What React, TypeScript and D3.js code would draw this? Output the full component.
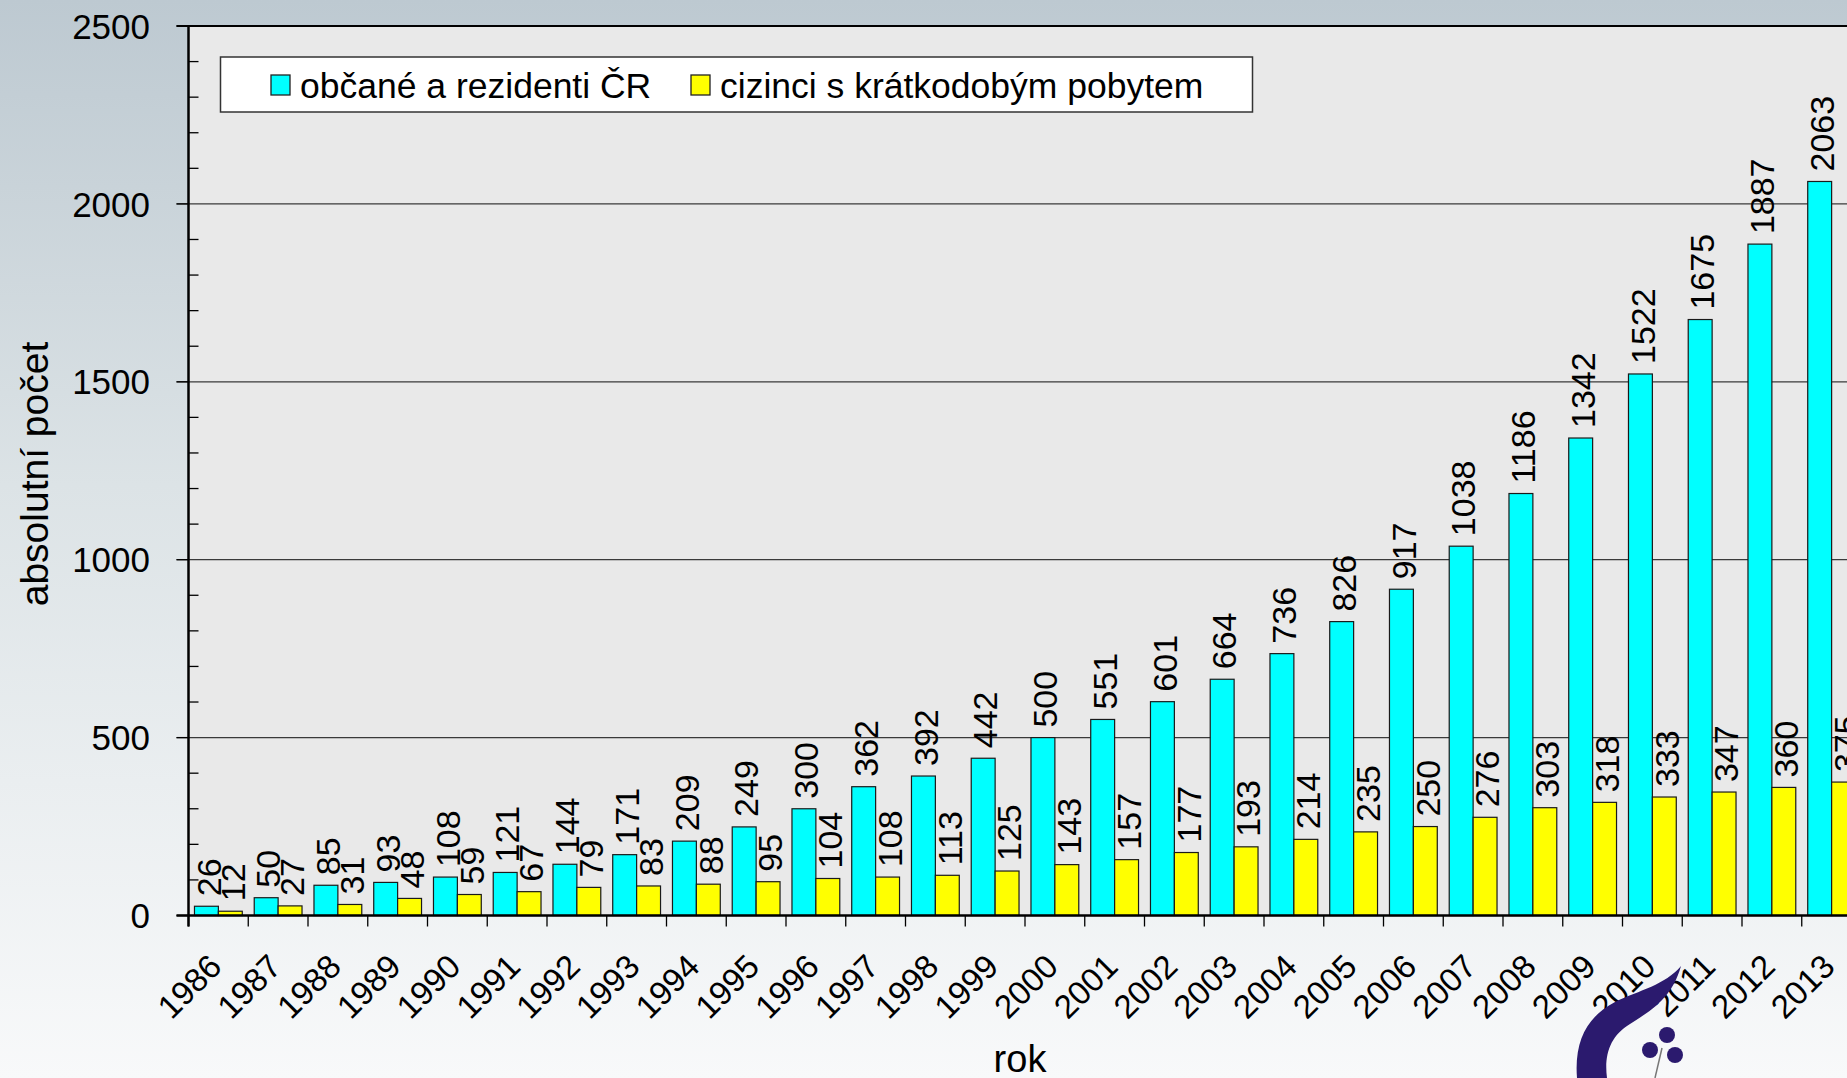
import React from 'react';
import * as d3 from 'd3';

const years = [
  '1986', '1987', '1988', '1989', '1990', '1991', '1992', '1993', '1994', '1995',
  '1996', '1997', '1998', '1999', '2000', '2001', '2002', '2003', '2004', '2005',
  '2006', '2007', '2008', '2009', '2010', '2011', '2012', '2013',
];

// občané a rezidenti ČR
const residents = [
  26, 50, 85, 93, 108, 121, 144, 171, 209, 249, 300, 362, 392, 442, 500, 551, 601, 664,
  736, 826, 917, 1038, 1186, 1342, 1522, 1675, 1887, 2063,
];

// cizinci s krátkodobým pobytem
const foreigners = [
  12, 27, 31, 48, 59, 67, 79, 83, 88, 95, 104, 108, 113, 125, 143, 157, 177, 193, 214,
  235, 250, 276, 303, 318, 333, 347, 360, 375,
];

const seriesNames = ['občané a rezidenti ČR', 'cizinci s krátkodobým pobytem'];
const seriesColors = ['#00ffff', '#ffff00'];
const majorTicks = [0, 500, 1000, 1500, 2000, 2500];
const minorTicks = d3.range(0, 2501, 100);

const W = 1847;
const H = 1078;
const FONT = "'Liberation Sans', Arial, sans-serif";

const App: React.FC = () => {
  const left = 188.5;
  const top = 26;
  const bottom = 915.5;
  const step = 59.75;

  const x = d3
    .scaleBand<string>()
    .domain(years)
    .range([left, left + step * years.length])
    .padding(0);

  // two bars per year, 10% gap at each side of the band
  const inner = d3
    .scaleBand<number>()
    .domain([0, 1])
    .range([0, x.bandwidth()])
    .paddingInner(0)
    .paddingOuter(0.25);

  const y = d3.scaleLinear().domain([0, 2500]).range([bottom, top]);

  const series = [residents, foreigners];
  const right = left + step * years.length;

  return (
    <svg
      width={W}
      height={H}
      style={{ position: 'absolute', left: 0, top: 0, display: 'block' }}
      fontFamily={FONT}
    >
      <defs>
        <linearGradient id="bg" x1="0" y1="0" x2="0" y2="1">
          <stop offset="0%" stopColor="#bdc9d1" />
          <stop offset="45%" stopColor="#dce3e6" />
          <stop offset="100%" stopColor="#f8f9fa" />
        </linearGradient>
      </defs>
      <rect x={0} y={0} width={W} height={H} fill="url(#bg)" />

      {/* plot area */}
      <rect x={left} y={top} width={right - left} height={bottom - top} fill="#e9e9e9" />

      {/* gridlines */}
      {majorTicks
        .filter((t) => t > 0 && t < 2500)
        .map((t) => (
          <line key={'g' + t} x1={left - 12} x2={right} y1={y(t)} y2={y(t)} stroke="#3a3a3a" strokeWidth={1.3} />
        ))}
      <line x1={left - 12} x2={right} y1={y(2500)} y2={y(2500)} stroke="#000" strokeWidth={2} />

      {/* bars */}
      {series.map((vals, si) =>
        vals.map((v, i) => (
          <rect
            key={`b${si}-${i}`}
            x={(x(years[i]) as number) + (inner(si) as number)}
            y={y(v)}
            width={inner.bandwidth()}
            height={bottom - y(v)}
            fill={seriesColors[si]}
            stroke="#1a1a1a"
            strokeWidth={1.2}
          />
        ))
      )}

      {/* value labels */}
      {series.map((vals, si) =>
        vals.map((v, i) => {
          const cx = (x(years[i]) as number) + (inner(si) as number) + inner.bandwidth() / 2 + 2;
          const cy = y(v) - 10;
          return (
            <text
              key={`l${si}-${i}`}
              transform={`translate(${cx},${cy}) rotate(-90)`}
              dy="0.36em"
              fontSize={34}
              fill="#000"
            >
              {v}
            </text>
          );
        })
      )}

      {/* y axis */}
      <line x1={left} x2={left} y1={top} y2={bottom + 11} stroke="#000" strokeWidth={2.5} />
      {minorTicks
        .filter((t) => t % 500 !== 0)
        .map((t) => (
          <line key={'m' + t} x1={left} x2={left + 10} y1={y(t)} y2={y(t)} stroke="#000" strokeWidth={1.3} />
        ))}
      {majorTicks.map((t) => (
        <g key={'t' + t}>
          <line x1={left - 12} x2={left} y1={y(t)} y2={y(t)} stroke="#000" strokeWidth={1.3} />
          <text x={150} y={y(t)} dy="0.36em" textAnchor="end" fontSize={35} fill="#000">
            {t}
          </text>
        </g>
      ))}

      {/* x axis */}
      <line x1={left - 12} x2={right} y1={bottom} y2={bottom} stroke="#000" strokeWidth={2.5} />
      {years.map((yr) => (
        <line
          key={'xt' + yr}
          x1={x(yr) as number}
          x2={x(yr) as number}
          y1={bottom}
          y2={bottom + 11}
          stroke="#000"
          strokeWidth={1.3}
        />
      ))}
      {years.map((yr) => {
        const cx = (x(yr) as number) + x.bandwidth() / 2 + 5;
        return (
          <text
            key={'xl' + yr}
            transform={`translate(${cx},${bottom + 53}) rotate(-45)`}
            textAnchor="end"
            fontSize={33}
            fill="#000"
          >
            {yr}
          </text>
        );
      })}

      {/* axis titles */}
      <text
        transform={`translate(34,474) rotate(-90)`}
        textAnchor="middle"
        dy="0.36em"
        fontSize={39}
        fill="#000"
      >
        absolutní počet
      </text>
      <text x={1020} y={1072} textAnchor="middle" fontSize={38} fill="#000">
        rok
      </text>

      {/* legend */}
      <rect x={220.5} y={57} width={1032} height={55} fill="#fff" stroke="#333" strokeWidth={1.5} />
      {seriesNames.map((name, si) => {
        const lx = si === 0 ? 271 : 691;
        return (
          <g key={'lg' + si}>
            <rect x={lx} y={75} width={19} height={20} fill={seriesColors[si]} stroke="#222" strokeWidth={1.3} />
            <text x={lx + 29} y={85} dy="0.36em" fontSize={35.5} fill="#000">
              {name}
            </text>
          </g>
        );
      })}

      {/* logo */}
      <g fill="#2b1a6e">
        <path d="M1681,966 C1665,985 1640,990 1615,1002 C1588,1016 1574,1040 1577,1078 L1607,1078 C1604,1055 1610,1036 1630,1024 C1652,1010 1672,998 1681,966 Z" />
        <line x1={1662} y1={1048} x2={1655} y2={1078} stroke="#777" strokeWidth={1.5} />
        <circle cx={1667} cy={1035} r={8} />
        <circle cx={1650} cy={1050} r={8} />
        <circle cx={1675} cy={1055} r={8} />
      </g>
    </svg>
  );
};

export default App;
